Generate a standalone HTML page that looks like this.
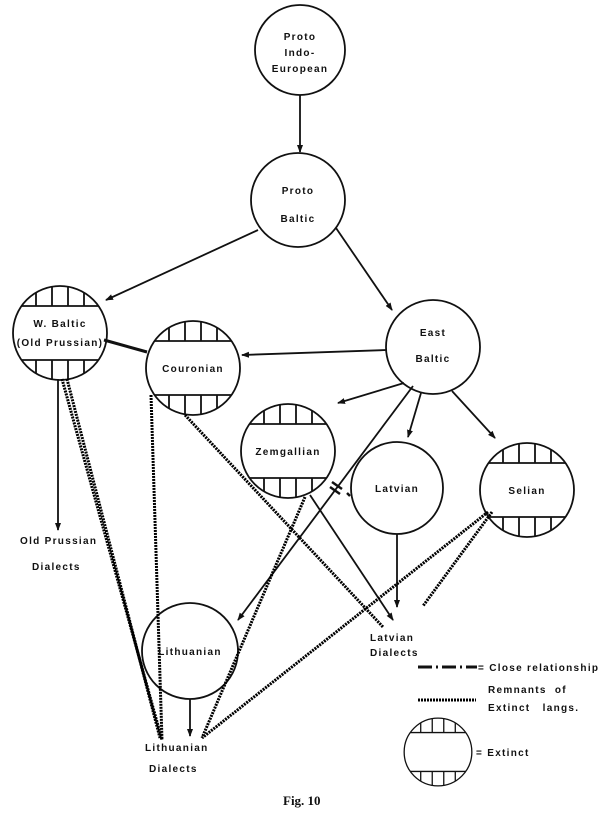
<!DOCTYPE html>
<html><head><meta charset="utf-8"><style>
html,body{margin:0;padding:0;background:#fff;}
svg text{font-family:"Liberation Sans",sans-serif;font-weight:bold;fill:#111;font-size:10px;letter-spacing:1.3px;}
</style></head><body>
<svg width="600" height="816" viewBox="0 0 600 816" xmlns="http://www.w3.org/2000/svg">
<defs>
<marker id="a" markerWidth="8" markerHeight="8" refX="7" refY="4" orient="auto" markerUnits="userSpaceOnUse">
<path d="M0,1 L8,4 L0,7 Z" fill="#111"/></marker>
<clipPath id="cc"><circle cx="0" cy="0" r="47"/></clipPath>
<g id="ex">
<g clip-path="url(#cc)" stroke="#111" stroke-width="1.8">
<line x1="-50" y1="-27" x2="50" y2="-27"/><line x1="-50" y1="27" x2="50" y2="27"/>
<line x1="-24" y1="-50" x2="-24" y2="-27"/><line x1="-8" y1="-50" x2="-8" y2="-27"/><line x1="8" y1="-50" x2="8" y2="-27"/><line x1="24" y1="-50" x2="24" y2="-27"/>
<line x1="-24" y1="27" x2="-24" y2="50"/><line x1="-8" y1="27" x2="-8" y2="50"/><line x1="8" y1="27" x2="8" y2="50"/><line x1="24" y1="27" x2="24" y2="50"/>
</g>
<circle cx="0" cy="0" r="47" fill="none" stroke="#111" stroke-width="1.8"/>
</g>
</defs>
<g stroke="#111" fill="none" stroke-width="1.8">
<circle cx="300" cy="50" r="45"/>
<circle cx="298" cy="200" r="47"/>
<circle cx="433" cy="347" r="47"/>
<circle cx="397" cy="488" r="46"/>
<circle cx="190" cy="651" r="48"/>
</g>
<use href="#ex" transform="translate(60,333)"/>
<use href="#ex" transform="translate(193,368)"/>
<use href="#ex" transform="translate(288,451)"/>
<use href="#ex" transform="translate(527,490)"/>
<use href="#ex" transform="translate(438,752) scale(0.72)"/>
<g stroke="#111" fill="none" stroke-width="1.8">
<line x1="300" y1="95" x2="300" y2="152" marker-end="url(#a)"/>
<line x1="258" y1="230" x2="106" y2="300" marker-end="url(#a)"/>
<line x1="336" y1="228" x2="392" y2="310" marker-end="url(#a)"/>
<line x1="387" y1="350" x2="242" y2="355" marker-end="url(#a)"/>
<line x1="404" y1="383" x2="338" y2="403" marker-end="url(#a)"/>
<line x1="421" y1="393" x2="408" y2="437" marker-end="url(#a)"/>
<line x1="452" y1="391" x2="495" y2="438" marker-end="url(#a)"/>
<line x1="413" y1="386" x2="238" y2="620" marker-end="url(#a)"/>
<line x1="58" y1="379" x2="58" y2="530" marker-end="url(#a)"/>
<line x1="397" y1="534" x2="397" y2="607" marker-end="url(#a)"/>
<line x1="190" y1="699" x2="190" y2="736" marker-end="url(#a)"/>
<line x1="310" y1="495" x2="393" y2="620" marker-end="url(#a)"/>
<line x1="104" y1="340" x2="147" y2="352" stroke-width="3"/>
<line x1="332" y1="482" x2="342" y2="489" stroke-width="2.5"/>
<line x1="330" y1="487" x2="340" y2="494" stroke-width="2.5"/>
<line x1="347" y1="493" x2="350" y2="496" stroke-width="2.5"/>
<line x1="418" y1="667" x2="432" y2="667" stroke-width="3"/>
<line x1="436" y1="667" x2="438" y2="667" stroke-width="3"/>
<line x1="442" y1="667" x2="456" y2="667" stroke-width="3"/>
<line x1="460" y1="667" x2="462" y2="667" stroke-width="3"/>
<line x1="466" y1="667" x2="477" y2="667" stroke-width="3"/>
</g>
<g stroke="#000" fill="none" stroke-width="3" stroke-dasharray="2 1">
<line x1="62" y1="379" x2="162" y2="740"/>
<line x1="67" y1="379" x2="160" y2="738"/>
<line x1="151" y1="395" x2="162" y2="740"/>
<line x1="185" y1="415" x2="383" y2="627"/>
<line x1="305" y1="497" x2="202" y2="738"/>
<line x1="488" y1="512" x2="202" y2="738"/>
<line x1="492" y1="512" x2="423" y2="606"/>
<line x1="418" y1="700" x2="476" y2="700"/>
</g>
<text x="300" y="40" text-anchor="middle">Proto</text>
<text x="300" y="56" text-anchor="middle">Indo-</text>
<text x="300" y="72" text-anchor="middle">European</text>
<text x="298" y="194" text-anchor="middle">Proto</text>
<text x="298" y="222" text-anchor="middle">Baltic</text>
<text x="433" y="336" text-anchor="middle">East</text>
<text x="433" y="362" text-anchor="middle">Baltic</text>
<text x="60" y="327" text-anchor="middle">W. Baltic</text>
<text x="60" y="346" text-anchor="middle" letter-spacing="0.8">(Old Prussian)</text>
<text x="193" y="372" text-anchor="middle">Couronian</text>
<text x="288" y="455" text-anchor="middle">Zemgallian</text>
<text x="397" y="492" text-anchor="middle">Latvian</text>
<text x="527" y="494" text-anchor="middle">Selian</text>
<text x="190" y="655" text-anchor="middle">Lithuanian</text>
<text x="20" y="544">Old Prussian</text>
<text x="32" y="570">Dialects</text>
<text x="370" y="641">Latvian</text>
<text x="370" y="656">Dialects</text>
<text x="145" y="751">Lithuanian</text>
<text x="149" y="772">Dialects</text>
<text x="478" y="671" letter-spacing="0.6">= Close relationship</text>
<text x="488" y="693">Remnants&#160;&#160;of</text>
<text x="488" y="711">Extinct&#160;&#160;&#160;langs.</text>
<text x="476" y="756">= Extinct</text>
<text x="283" y="805" style="font-family:'Liberation Serif',serif;font-size:13px;letter-spacing:0">Fig. 10</text>
</svg>
</body></html>
